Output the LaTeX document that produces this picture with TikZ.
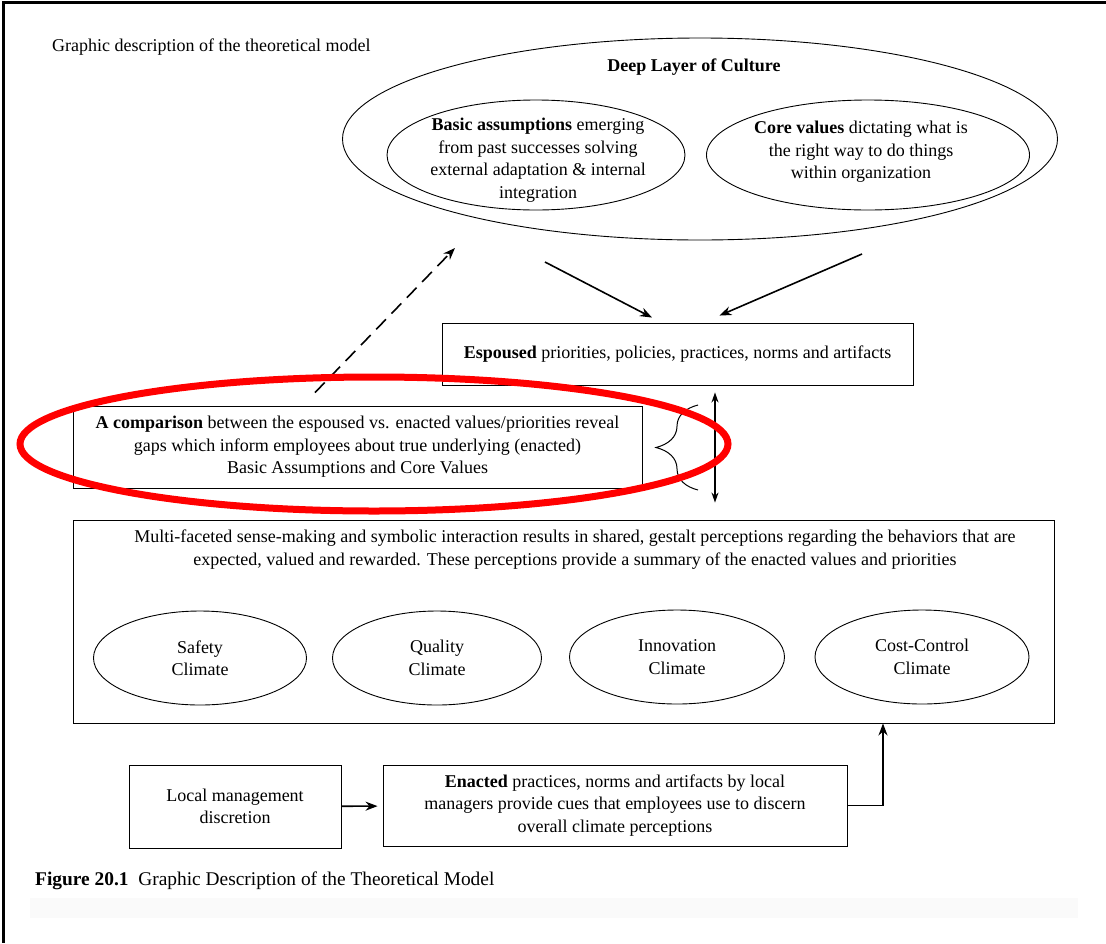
\documentclass[tikz,border=0pt]{standalone}
\usepackage{fontspec}
\setmainfont{Liberation Serif}
\usetikzlibrary{arrows.meta, shapes.geometric, decorations.pathreplacing}
\begin{document}
\begin{tikzpicture}[x=1pt, y=-1pt, >={Stealth[length=12pt, width=9pt]},
  every node/.style={font=\fontsize{18}{22.5}\selectfont},
  box/.style={draw, line width=0.9pt, inner sep=0pt, align=center},
  oval/.style={draw, ellipse, line width=0.9pt, inner sep=0pt, align=center},
  txt/.style={align=center, inner sep=0pt},
  arr/.style={->, line width=1.6pt}]
\useasboundingbox (0,0) rectangle (1106,943);
\fill[black!2] (30,898) rectangle (1078,918);
\draw[line width=3pt] (1106,2) -- (3,2) -- (3,943);

\node at (52,47) [anchor=west, inner sep=0pt] (title) {Graphic description of the theoretical model};

\node at (700,139) [oval, minimum width=715pt, minimum height=202pt] (deep) {};
\node at (694,67) [txt] (deeptxt) {\textbf{Deep Layer of Culture}};
\node at (536,155) [oval, minimum width=298pt, minimum height=110pt] (basic) {};
\node at (538,160) [txt] (basictxt) {\textbf{Basic assumptions} emerging\\from past successes solving\\external adaptation \& internal\\integration};
\node at (868,155) [oval, minimum width=323pt, minimum height=110pt] (core) {};
\node at (861,152) [txt] (coretxt) {\textbf{Core values} dictating what is\\the right way to do things\\within organization};

\node at (677.5,354) [box, minimum width=471pt, minimum height=62pt] (espoused) {\textbf{Espoused} priorities, policies, practices, norms and artifacts};
\coordinate (d1) at (545,262);
\coordinate (d2) at (862,254);
\draw[arr] (d1) -- ([xshift=-25.5pt, yshift=5pt]espoused.north);
\draw[arr] (d2) -- ([xshift=42pt, yshift=7pt]espoused.north);

\node at (357.5,447) [box, minimum width=569pt, minimum height=82pt] (compare) {\textbf{A comparison} between the espoused vs. enacted values/priorities reveal\\gaps which inform employees about true underlying (enacted)\\Basic Assumptions and Core Values};
\coordinate (up) at (455,248);
\draw[arr, dash pattern=on 14pt off 8pt] ([xshift=-42.5pt, yshift=13pt]compare.north) -- (up);

\coordinate (bracebot) at (698,490);
\coordinate (bracetop) at (698,405);
\draw[decorate, decoration={brace, amplitude=42pt}, line width=1pt] (bracebot) -- (bracetop);

\node at (563.5,621.5) [box, minimum width=981pt, minimum height=203pt] (climate) {};
\node at (575,549.5) [txt] (climatetxt) {Multi-faceted sense-making and symbolic interaction results in shared, gestalt perceptions regarding the behaviors that are\\expected, valued and rewarded. These perceptions provide a summary of the enacted values and priorities};
\coordinate (gap) at (715,0);
\draw[{Stealth[length=10pt, width=7pt]}-{Stealth[length=10pt, width=7pt]}, line width=1.3pt, shorten <=7pt, shorten >=17pt] (espoused.south -| gap) -- (climate.north -| gap);

\node at (200,658) [oval, minimum width=213pt, minimum height=94pt] (safety) {Safety\\Climate};
\node at (437,658) [oval, minimum width=209pt, minimum height=94pt] (quality) {Quality\\Climate};
\node at (677,657) [oval, minimum width=215pt, minimum height=94pt] (innovation) {Innovation\\Climate};
\node at (922,657) [oval, minimum width=214pt, minimum height=94pt] (cost) {Cost-Control\\Climate};

\node at (235,806.5) [box, minimum width=212pt, minimum height=83pt] (local) {Local management\\discretion};
\node at (615,805.5) [box, minimum width=464pt, minimum height=81pt] (enacted) {\textbf{Enacted} practices, norms and artifacts by local\\managers provide cues that employees use to discern\\overall climate perceptions};
\draw[arr, shorten >=5pt] (local) -- (enacted);
\coordinate (bend) at (883,0);
\draw[arr] (enacted.east) -| (climate.south -| bend);

\node at (35,881) [anchor=west, inner sep=0pt, font=\fontsize{19.4}{22.5}\selectfont] (caption) {\textbf{Figure 20.1}\hspace{0.5em}Graphic Description of the Theoretical Model};

\node at (374,444) [draw=red, line width=7pt, ellipse, minimum width=708pt, minimum height=134pt, inner sep=0pt] (highlight) {};
\end{tikzpicture}
\end{document}
